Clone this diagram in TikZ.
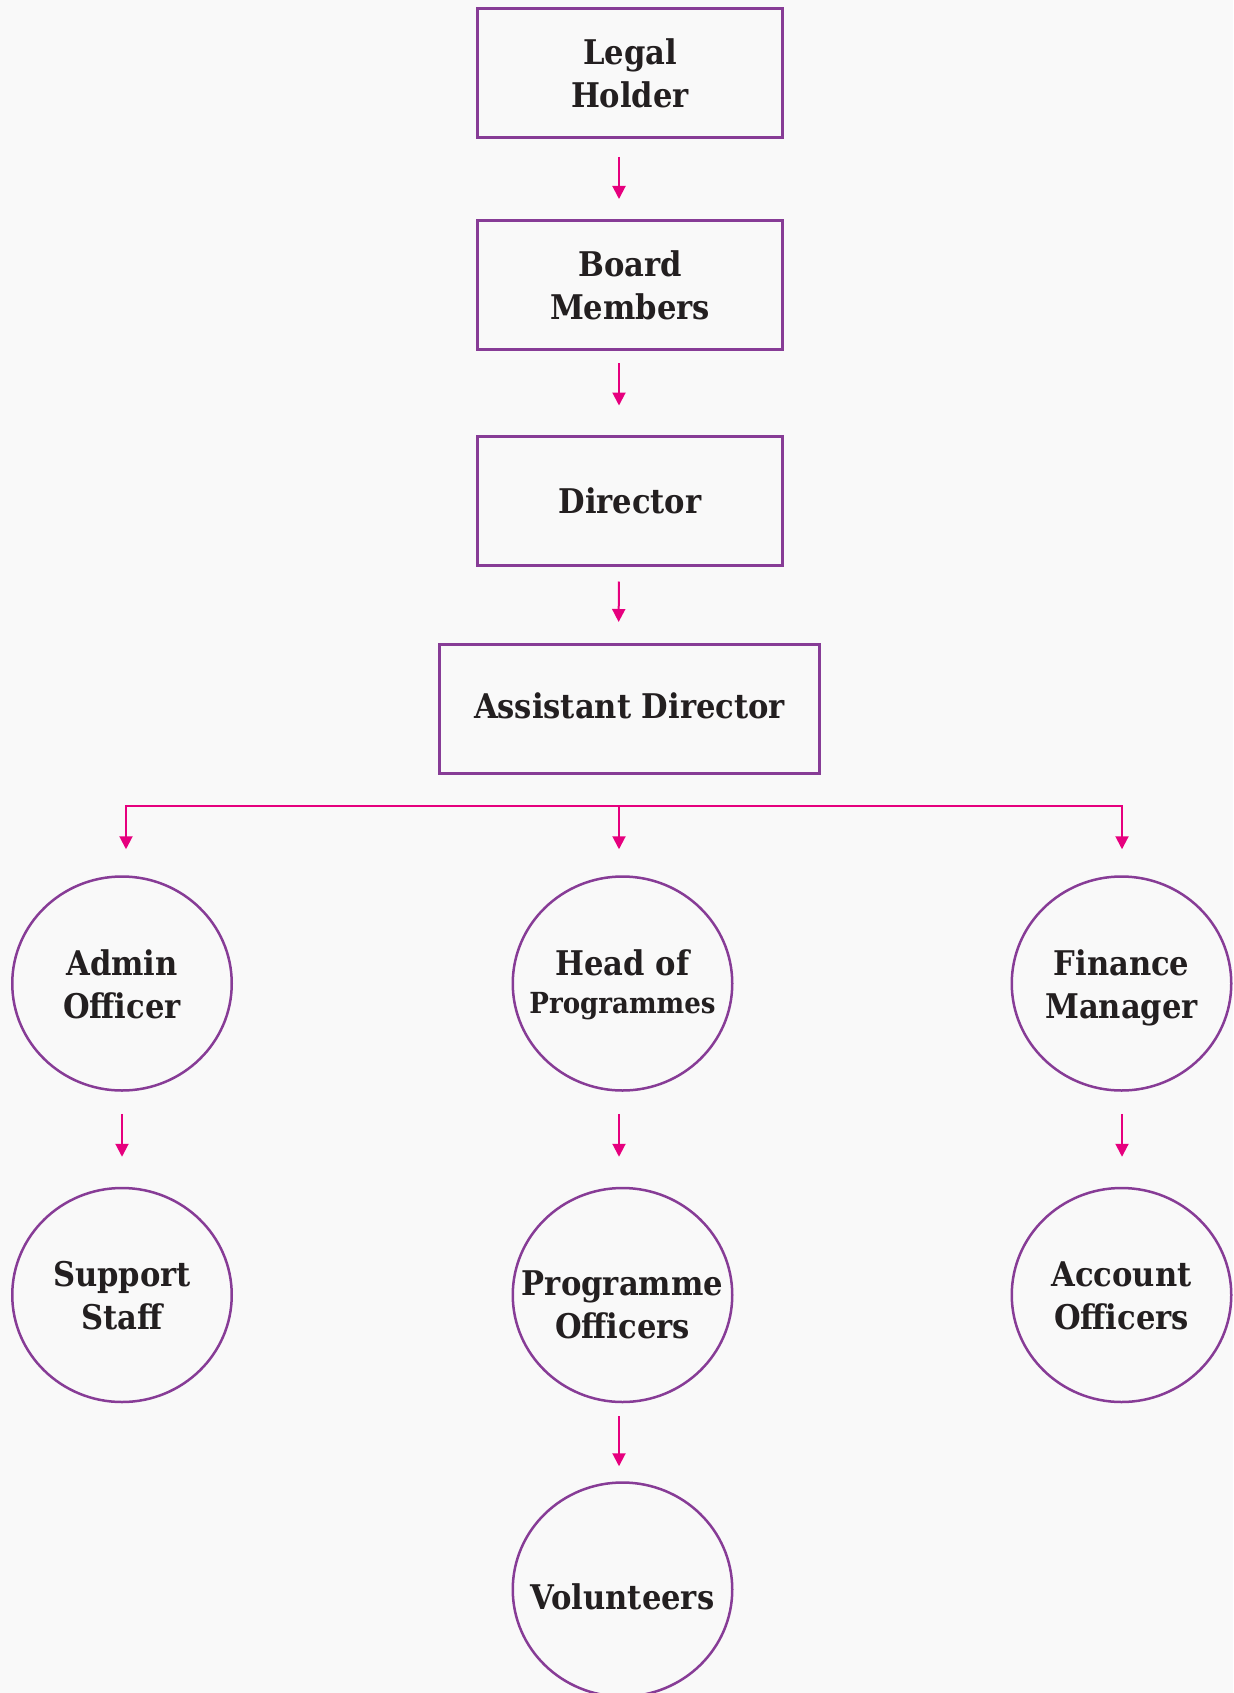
\documentclass[tikz,border=0pt]{standalone}
\usepackage{fontspec}
\setmainfont{DejaVu Serif Condensed}
\usetikzlibrary{arrows.meta,shapes.geometric}
\definecolor{bg}{HTML}{F9F9F9}
\definecolor{purp}{HTML}{873C96}
\definecolor{pinkc}{HTML}{E6007E}
\definecolor{ink}{HTML}{231F20}
\newcommand\tst[1][36pt]{\rule{0pt}{#1}}
\newcommand\bst[1][10pt]{\rule[-#1]{0pt}{#1}}
\begin{document}
\begin{tikzpicture}[x=1pt,y=-1pt,
  lbl/.style={align=center, text=ink, font=\fontsize{34}{43}\selectfont\bfseries},
  box/.style={lbl, draw=purp, line width=3pt, minimum width=305pt, minimum height=129pt, inner sep=0pt},
  circ/.style={ellipse, draw=purp, line width=2.5pt, minimum width=219.5pt, minimum height=214pt, inner sep=0pt},
  pline/.style={draw=pinkc, line width=2pt},
  arr/.style={pline, -{Triangle[width=13pt,length=13pt]}}
]
\fill[bg] (0,0) rectangle (1233,1693);
\useasboundingbox (0,0) rectangle (1233,1693);

\node[box] (lh) at (630,73) {Legal\\Holder};
\node[box] (bm) at (630,285) {Board\\Members};
\node[box] (dir) at (630,500.5) {Director};
\node[box, minimum width=380pt] (ad) at (629.5,709) {Assistant Director\bst[7pt]};

\node[circ, label={[lbl]center:\tst Admin\\Officer\bst}] (ao) at (122,983.5) {};
\node[circ, label={[lbl]center:\tst[32pt]Head of\\[-5pt]{\fontsize{29}{38}\selectfont Programmes}\bst}] (hp) at (622.5,983.5) {};
\node[circ, label={[lbl]center:\tst Finance\\Manager\bst}] (fm) at (1121.5,983.5) {};
\node[circ, label={[lbl]center:\tst Support\\Staff\bst}] (ss) at (122,1295) {};
\node[circ, label={[lbl]center:\tst[53pt]Programme\\Officers\bst}] (po) at (622.5,1295) {};
\node[circ, label={[lbl]center:\tst Account\\Officers\bst}] (ac) at (1121.5,1295) {};
\node[circ, label={[lbl]center:\tst[50pt]Volunteers\bst}] (vo) at (622.5,1589.5) {};

\draw[arr, shorten <=18pt, shorten >=20pt] ([xshift=-11pt]lh.south) -- ([xshift=-11pt]bm.north);
\draw[arr, shorten <=12pt, shorten >=29pt] ([xshift=-11pt]bm.south) -- ([xshift=-11pt]dir.north);
\draw[arr, shorten <=15pt, shorten >=21pt] ([xshift=-11pt]dir.south) -- ([xshift=-11pt]ad.north);

\coordinate (bus) at (619,806);
\draw[arr, shorten >=26pt] (bus) -| ([xshift=4pt]ao.north);
\draw[arr, shorten >=26pt] (bus) -| ([xshift=0.5pt]fm.north);
\draw[arr, shorten >=26pt] (bus) -- (bus |- hp.north);

\draw[arr, shorten <=22pt, shorten >=30pt] (ao.south) -- (ss.north);
\draw[arr, shorten <=22pt, shorten >=30pt] ([xshift=-3.5pt]hp.south) -- ([xshift=-3.5pt]po.north);
\draw[arr, shorten <=22pt, shorten >=30pt] ([xshift=0.5pt]fm.south) -- ([xshift=0.5pt]ac.north);
\draw[arr, shorten <=13pt, shorten >=15pt] ([xshift=-3.5pt]po.south) -- ([xshift=-3.5pt]vo.north);
\end{tikzpicture}
\end{document}
